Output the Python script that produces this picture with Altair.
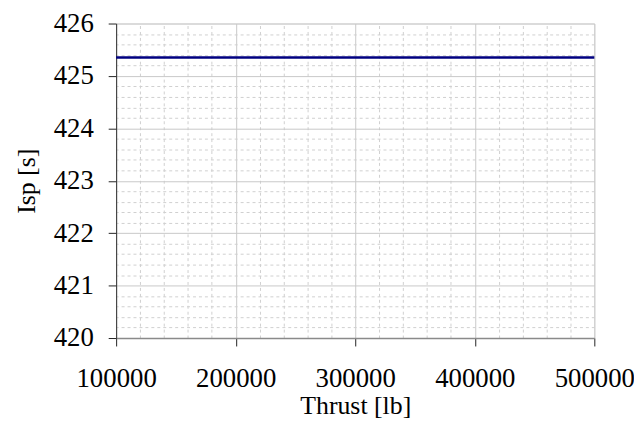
import altair as alt
import pandas as pd

thrust = [100000, 200000, 300000, 400000, 500000]
isp = [425.35, 425.35, 425.35, 425.35, 425.35]

x_major = [100000, 200000, 300000, 400000, 500000]
y_major = [420, 421, 422, 423, 424, 425, 426]
x_minor = [v for v in range(100000, 500001, 20000) if v % 100000 != 0]
y_minor = [round(420 + i * 0.2, 1) for i in range(31) if i % 5 != 0]

df = pd.DataFrame({"thrust": thrust, "isp": isp})

FONT = "Liberation Serif"
xs = alt.Scale(domain=[100000, 500000], nice=False, zero=False)
ys = alt.Scale(domain=[420, 426], nice=False, zero=False)

minor = alt.Chart(df).mark_line(opacity=0).encode(
    x=alt.X("thrust:Q", scale=xs, axis=alt.Axis(
        orient="top", values=x_minor, grid=True, gridColor="#cfcfcf",
        gridDash=[3, 3], gridWidth=1, labels=False, ticks=False,
        domain=False, title=None)),
    y=alt.Y("isp:Q", scale=ys, axis=alt.Axis(
        orient="right", values=y_minor, grid=True, gridColor="#cfcfcf",
        gridDash=[3, 3], gridWidth=1, labels=False, ticks=False,
        domain=False, title=None)),
)

main = alt.Chart(df).mark_line(color="#000080", strokeWidth=2.5).encode(
    x=alt.X("thrust:Q", scale=xs, axis=alt.Axis(
        orient="bottom", values=x_major, format="d", grid=True,
        gridColor="#c8c8c8", gridWidth=1, labelFont=FONT, labelFontSize=27,
        labelColor="black", labelPadding=20, labelFlush=False,
        tickSize=8, tickColor="#222222", domainColor="#8a8a8a",
        domainWidth=1.5, title="Thrust [lb]", titleFont=FONT,
        titleFontSize=26, titleFontWeight="normal", titleColor="black",
        titlePadding=1)),
    y=alt.Y("isp:Q", scale=ys, axis=alt.Axis(
        orient="left", values=y_major, format="d", grid=True,
        gridColor="#c8c8c8", gridWidth=1, labelFont=FONT, labelFontSize=27,
        labelColor="black", labelPadding=15, tickSize=8,
        tickColor="#222222", domainColor="#333333", domainWidth=1,
        title="Isp [s]", titleFont=FONT, titleFontSize=26,
        titleFontWeight="normal", titleColor="black", titlePadding=14)),
)

chart = alt.layer(minor, main).resolve_axis(x="independent", y="independent").properties(
    width=482, height=317,
    autosize=alt.AutoSizeParams(type="none"),
    padding={"left": 109, "top": 14, "right": 40, "bottom": 84},
).configure_view(stroke="#c8c8c8", strokeWidth=1).configure(
    background="white", font=FONT
).configure_axis(labelFont=FONT, titleFont=FONT)

chart.save("out.html", embed_options={"renderer": "svg", "actions": False})
